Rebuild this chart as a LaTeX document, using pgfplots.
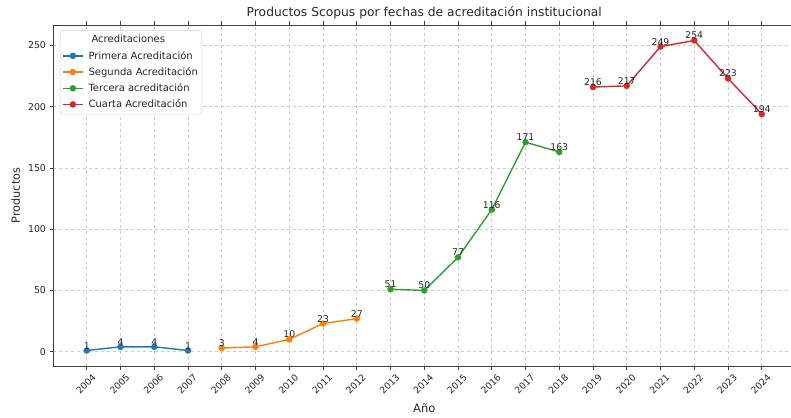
\documentclass[border=0pt]{standalone}
\usepackage{pgfplots}
\pgfplotsset{compat=1.18}
\usepackage{fontspec}
\setmainfont{DejaVu Sans}
\definecolor{tabblue}{HTML}{1F77B4}
\definecolor{taborange}{HTML}{FF7F0E}
\definecolor{tabgreen}{HTML}{2CA02C}
\definecolor{tabred}{HTML}{D62728}
\definecolor{txt}{HTML}{262626}
\begin{document}
\begin{tikzpicture}[x=1pt,y=1pt]
\useasboundingbox (-53,-51) rectangle (738,366);
\begin{axis}[
  at={(0,0)}, anchor=south west,
  scale only axis, width=742.5pt, height=341pt,
  xmin=2003, xmax=2025, ymin=-11.65, ymax=266.65,
  axis y line*=left, axis x line*=box,
  axis line style={draw=black!75, line width=0.8pt},
  xtick={2004,...,2024},
  ytick={0,50,100,150,200,250},
  /pgf/number format/1000 sep={},
  /pgf/number format/assume math mode=true,
  x tick label style={xshift=5pt, yshift=-3.5pt, rotate=45, anchor=north east, font=\fontsize{9.2}{10}\selectfont, text=txt, inner sep=0pt},
  y tick label style={font=\fontsize{9.4}{10}\selectfont, text=txt},
  tick style={draw=black!75, line width=0.8pt},
  major tick length=3.5pt,
  tick align=outside,
  grid=major,
  major grid style={draw=black!20, dashed, line width=0.6pt},
  title={\fontsize{12.3}{14}\selectfont Productos Scopus por fechas de acreditación institucional},
  title style={at={(axis description cs:0.5,1)}, anchor=base, yshift=2pt, text=txt},
  xlabel={\fontsize{11.5}{13}\selectfont Año},
  ylabel={\fontsize{11.3}{13}\selectfont Productos},
  xlabel style={at={(axis description cs:0.5,0)}, anchor=base, yshift=-46pt, text=txt},
  ylabel style={at={(axis description cs:0,0.5)}, anchor=base, yshift=33pt, text=txt},
  every axis plot/.append style={line width=1.4pt, mark=*, mark size=2.5pt},
  nodes near coords,
  nodes near coords style={font=\fontsize{9.3}{10}\selectfont, text=txt, anchor=base, yshift=1.5pt, inner sep=0pt},
  point meta=explicit symbolic,
  legend cell align=left,
  legend style={at={(0.0094,0.985)}, anchor=north west, draw=black!20, rounded corners=2.5pt, font=\fontsize{10}{11}\selectfont, row sep=2.7pt, column sep=3pt, inner xsep=2pt, inner ysep=3pt, text=txt},
  legend image code/.code={\draw[#1, mark repeat=2, mark phase=2] plot coordinates {(0pt,0pt) (10pt,0pt) (20pt,0pt)};},
]
\addlegendimage{empty legend}
\addlegendentry{\hspace{3pt}Acreditaciones}
\addplot[color=tabblue, mark options={fill=tabblue}] coordinates {(2004,1)[1] (2005,4)[4] (2006,4)[4] (2007,1)[1]};
\addlegendentry{Primera Acreditación}
\addplot[color=taborange, mark options={fill=taborange}] coordinates {(2008,3)[3] (2009,4)[4] (2010,10)[10] (2011,23)[23] (2012,27)[27]};
\addlegendentry{Segunda Acreditación}
\addplot[color=tabgreen, mark options={fill=tabgreen}] coordinates {(2013,51)[51] (2014,50)[50] (2015,77)[77] (2016,116)[116] (2017,171)[171] (2018,163)[163]};
\addlegendentry{Tercera acreditación}
\addplot[color=tabred, mark options={fill=tabred}] coordinates {(2019,216)[216] (2020,217)[217] (2021,249)[249] (2022,254)[254] (2023,223)[223] (2024,194)[194]};
\addlegendentry{Cuarta Acreditación}
\end{axis}
\end{tikzpicture}
\end{document}
